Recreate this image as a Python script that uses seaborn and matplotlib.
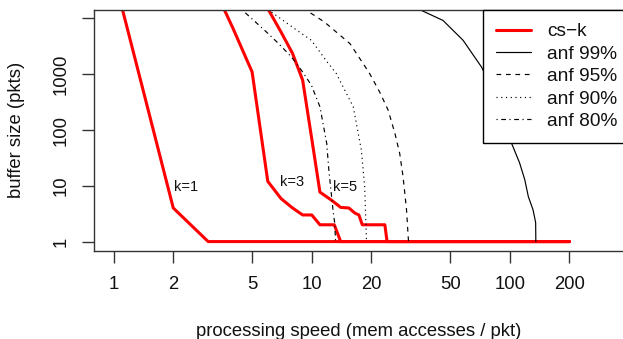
import matplotlib
matplotlib.use("Agg")
import matplotlib.pyplot as plt
import seaborn as sns
import pandas as pd
from matplotlib.lines import Line2D

# ---- data ----
k1_x = [1, 2, 3, 200]
k1_y = [60000, 4, 1, 1]
k3_x = [3, 4, 5, 6, 7, 8, 9, 10, 11, 13, 14, 200]
k3_y = [60000, 6700, 1100, 12, 5.9, 4, 3, 3, 2, 2, 1, 1]
k5_x = [6, 7, 8, 9, 10, 11, 12.6, 14, 15.4, 16.5, 17.3, 18, 23.4, 24, 200]
k5_y = [15000, 5700, 2360, 780, 70, 7.7, 5.5, 4.1, 4, 3.25, 3, 2, 2, 1, 1]

anf99_x = [30, 35.8, 46.0, 58.1, 71.9, 80.9, 87.3, 96.2, 102, 112, 119, 124, 131, 135, 135.3]
anf99_y = [19000, 13900, 9200, 4050, 1350, 593, 343, 115, 58, 25.8, 12.8, 6.4, 3.7, 2.2, 1]
anf95_x = [9.0, 11.6, 15.6, 19.6, 22.0, 24.3, 26.3, 27.8, 28.9, 30.1, 30.6, 30.8]
anf95_y = [15500, 8600, 3530, 1030, 483, 228, 87, 38, 14.7, 3.7, 1.43, 1.0]
anf90_x = [6.0, 6.38, 8.2, 9.96, 11.9, 13.3, 16.2, 17.8, 18.5, 18.9]
anf90_y = [14600, 12400, 6550, 4050, 1700, 1030, 261, 44, 9.7, 1.0]
anf80_x = [4.45, 4.68, 5.79, 6.76, 7.9, 8.87, 9.96, 11.0, 11.9, 12.2, 12.8, 13.05, 13.2]
anf80_y = [14500, 12100, 6100, 3620, 2040, 1180, 636, 261, 58, 19.3, 3.7, 2.2, 1.0]

k_labels = ["k=1", "k=3", "k=5"]
k_label_x = [2.31, 7.92, 14.8]
k_label_y = [9.6, 11.8, 9.6]

legend_labels = ["cs\u2212k", "anf 99%", "anf 95%", "anf 90%", "anf 80%"]
xticks = [1, 2, 5, 10, 20, 50, 100, 200]
yticks = [1, 10, 100, 1000, 10000]
ytick_labels = ["1", "10", "100", "1000", ""]

# ---- style ----
sns.set_theme(style="ticks")
plt.rcParams["font.family"] = ["Liberation Sans", "DejaVu Sans"]
plt.rcParams["text.color"] = "#111111"

W, H = 623, 339
fig = plt.figure(figsize=(W / 100, H / 100), dpi=100)
fig.patch.set_facecolor("white")
L, R, T, B = 94, 624, 9.5, 250.5
ax = fig.add_axes([L / W, (H - B) / H, (R - L) / W, (B - T) / H])
ax.set_facecolor("white")

RED = "#ff0000"
LW_RED = 2.2
LW_BLK = 0.85

for xs, ys in [(k1_x, k1_y), (k3_x, k3_y), (k5_x, k5_y)]:
    df = pd.DataFrame({"x": xs, "y": ys})
    sns.lineplot(data=df, x="x", y="y", ax=ax, color=RED, lw=LW_RED,
                 estimator=None, sort=False, legend=False)

anf_styles = [
    ((anf99_x, anf99_y), None),
    ((anf95_x, anf95_y), (4, 4)),
    ((anf90_x, anf90_y), (1, 3)),
    ((anf80_x, anf80_y), (1, 3, 4, 3)),
]
for (xs, ys), dash in anf_styles:
    df = pd.DataFrame({"x": xs, "y": ys})
    sns.lineplot(data=df, x="x", y="y", ax=ax, color="black", lw=LW_BLK,
                 estimator=None, sort=False, legend=False)
    if dash is not None:
        ax.lines[-1].set_dashes(dash)

ax.set_xscale("log")
ax.set_yscale("log")
ax.set_xlim(0.796, 377)
ax.set_ylim(10 ** -0.16, 10 ** 4.16)

ax.set_xticks(xticks)
ax.set_xticklabels([str(v) for v in xticks])
ax.set_yticks(yticks)
ax.set_yticklabels(ytick_labels)
ax.minorticks_off()

FS = 13.3
ax.tick_params(axis="both", direction="out", length=8.3, width=1.0,
               color="#333333", labelsize=FS, labelcolor="#111111")
ax.tick_params(axis="x", pad=10)
ax.tick_params(axis="y", pad=9)
for lbl in ax.get_yticklabels():
    lbl.set_rotation(90)
    lbl.set_va("center")

for s in ax.spines.values():
    s.set_visible(True)
    s.set_color("#333333")
    s.set_linewidth(1.0)

ax.set_xlabel("processing speed (mem accesses / pkt)", fontsize=FS, color="#111111")
ax.set_ylabel("buffer size (pkts)", fontsize=FS, color="#111111")
ax.xaxis.set_label_coords((359 - L) / (R - L), (B - 331) / (B - T))
ax.xaxis.label.set_va("center")
ax.yaxis.set_label_coords((17 - L) / (R - L), 0.5)
ax.yaxis.label.set_va("center")

for t, x, y in zip(k_labels, k_label_x, k_label_y):
    ax.text(x, y, t, fontsize=10.5, ha="center", va="center", color="#111111")

handles = [
    Line2D([], [], color=RED, lw=LW_RED),
    Line2D([], [], color="black", lw=LW_BLK),
    Line2D([], [], color="black", lw=LW_BLK, dashes=(4, 4)),
    Line2D([], [], color="black", lw=LW_BLK, dashes=(1, 3)),
    Line2D([], [], color="black", lw=LW_BLK, dashes=(1, 3, 4, 3)),
]
LFS = 13.8
leg = ax.legend(handles, legend_labels, loc="upper left",
                bbox_to_anchor=((483 - L) / (R - L), 1.0),
                borderaxespad=0, fontsize=LFS, frameon=True, fancybox=False,
                framealpha=1, edgecolor="black", handlelength=1.82,
                handletextpad=0.83, labelspacing=0.26, borderpad=0.7)
leg.get_frame().set_linewidth(1.0)

fig.savefig("out.png", dpi=100)
